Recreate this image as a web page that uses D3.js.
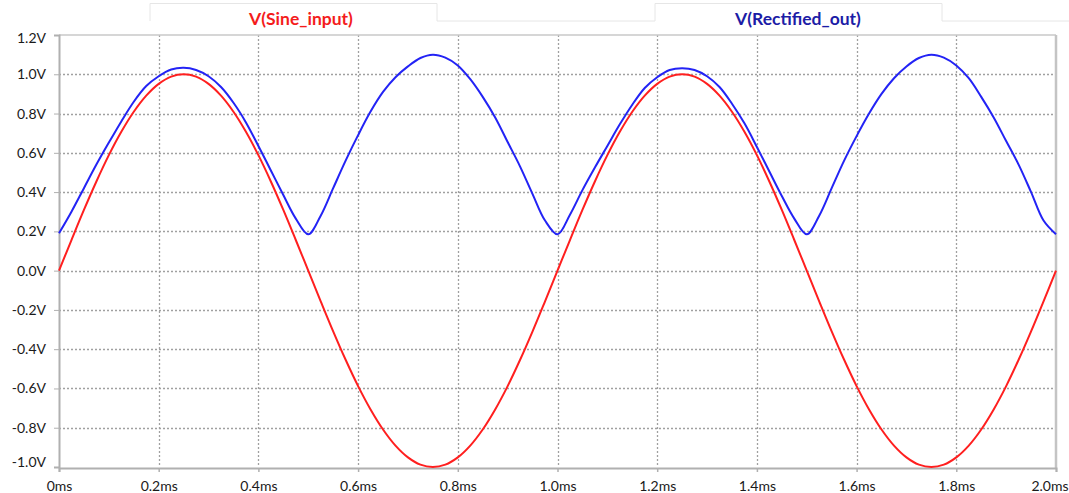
<!DOCTYPE html>
<html>
<head>
<meta charset="utf-8">
<script src="https://cdn.jsdelivr.net/npm/d3@7"></script>
<style>
  body { margin: 0; background: #fff; }
  svg { display: block; }
</style>
</head>
<body>
<svg id="chart" width="1069" height="493"></svg>
<script>
// time axis, in ms (one sample every 0.025 ms)
var timeMs = d3.range(0, 81).map(function(i) { return i * 0.025; });

// V(Sine_input)
var sineInput = [
    0, 0.156, 0.309, 0.454, 0.588, 0.707, 0.809, 0.891, 0.951, 0.988, 1.0,
    0.988, 0.951, 0.891, 0.809, 0.707, 0.588, 0.454, 0.309, 0.156, 0,
    -0.156, -0.309, -0.454, -0.588, -0.707, -0.809, -0.891, -0.951, -0.988, -1.0,
    -0.988, -0.951, -0.891, -0.809, -0.707, -0.588, -0.454, -0.309, -0.156, 0,
    0.156, 0.309, 0.454, 0.588, 0.707, 0.809, 0.891, 0.951, 0.988, 1.0,
    0.988, 0.951, 0.891, 0.809, 0.707, 0.588, 0.454, 0.309, 0.156, 0,
    -0.156, -0.309, -0.454, -0.588, -0.707, -0.809, -0.891, -0.951, -0.988, -1.0,
    -0.988, -0.951, -0.891, -0.809, -0.707, -0.588, -0.454, -0.309, -0.156, 0
];

// V(Rectified_out)
var rectifiedOut = [
    0.19, 0.30, 0.42, 0.54, 0.652, 0.76, 0.86, 0.94, 0.99, 1.024, 1.033,
    1.022, 0.99, 0.935, 0.855, 0.755, 0.635, 0.51, 0.385, 0.265, 0.185,
    0.28, 0.42, 0.56, 0.69, 0.81, 0.91, 0.985, 1.04, 1.083, 1.10,
    1.085, 1.045, 0.975, 0.885, 0.78, 0.655, 0.53, 0.39, 0.255, 0.185,
    0.285, 0.41, 0.525, 0.635, 0.745, 0.845, 0.93, 0.985, 1.022, 1.031,
    1.022, 0.99, 0.935, 0.85, 0.75, 0.63, 0.505, 0.38, 0.265, 0.185,
    0.28, 0.42, 0.56, 0.685, 0.80, 0.90, 0.98, 1.04, 1.083, 1.10,
    1.085, 1.045, 0.98, 0.885, 0.78, 0.66, 0.54, 0.40, 0.255, 0.185
];

var xTicks = [0, 0.2, 0.4, 0.6, 0.8, 1.0, 1.2, 1.4, 1.6, 1.8, 2.0];
var xTickLabels = ["0ms", "0.2ms", "0.4ms", "0.6ms", "0.8ms", "1.0ms", "1.2ms", "1.4ms", "1.6ms", "1.8ms", "2.0ms"];
var yTicks = [1.2, 1.0, 0.8, 0.6, 0.4, 0.2, 0.0, -0.2, -0.4, -0.6, -0.8, -1.0];
var yTickLabels = ["1.2V", "1.0V", "0.8V", "0.6V", "0.4V", "0.2V", "0.0V", "-0.2V", "-0.4V", "-0.6V", "-0.8V", "-1.0V"];

var seriesNames = ["V(Sine_input)", "V(Rectified_out)"];
var seriesColors = ["#ff1f1f", "#2323f5"];
var titleColors = ["#f41c1c", "#1c1ca6"];

var plot = { left: 59, right: 1056, top: 35, bottom: 467 };
var font = "Lato, 'Open Sans', sans-serif";

var svg = d3.select("#chart");

var x = d3.scaleLinear().domain([0, 2.0]).range([plot.left, plot.right]);
var y = d3.scaleLinear().domain([-1.0, 1.2]).range([plot.bottom, plot.top]);

// faint title boxes along the top
var boxes = svg.append("g").attr("fill", "none").attr("stroke", "#e6e6e6").attr("stroke-width", 1);
boxes.append("path").attr("d", "M150,21V3.5H437V21H655V3.5H942V21H1069");

// dotted grid
var grid = svg.append("g").attr("id", "gridLayer");
grid.selectAll("line.v")
    .data(xTicks.slice(1, -1))
    .enter()
    .append("line")
    .attr("class", "v")
    .attr("x1", function(d) { return Math.round(x(d)) + 0.5; })
    .attr("x2", function(d) { return Math.round(x(d)) + 0.5; })
    .attr("y1", plot.top)
    .attr("y2", plot.bottom)
    .attr("stroke", "#a0a0a0")
    .attr("stroke-width", 1.3)
    .attr("stroke-dasharray", "2,2");
grid.selectAll("line.h")
    .data(yTicks.slice(1, -1))
    .enter()
    .append("line")
    .attr("class", "h")
    .attr("x1", plot.left)
    .attr("x2", plot.right)
    .attr("y1", function(d) { return Math.round(y(d)) + 0.5; })
    .attr("y2", function(d) { return Math.round(y(d)) + 0.5; })
    .attr("stroke", "#a0a0a0")
    .attr("stroke-width", 1.3)
    .attr("stroke-dasharray", "2,2");

// frame
svg.append("line")
    .attr("x1", plot.left).attr("x2", plot.right)
    .attr("y1", plot.top).attr("y2", plot.top)
    .attr("stroke", "#c8c8c8").attr("stroke-width", 1.5);
svg.append("line")
    .attr("x1", plot.right).attr("x2", plot.right)
    .attr("y1", plot.top).attr("y2", plot.bottom + 1)
    .attr("stroke", "#c4c4c4").attr("stroke-width", 2.5);

// axes
var xAxis = d3.axisBottom(x)
    .tickValues(xTicks)
    .tickSize(4)
    .tickPadding(9)
    .tickFormat(function(d, i) { return xTickLabels[i]; });
var gx = svg.append("g")
    .attr("transform", "translate(0," + (plot.bottom + 1) + ")")
    .call(xAxis);
gx.select(".domain").attr("stroke", "#b0b0b0").attr("stroke-width", 2);
gx.selectAll(".tick line").attr("stroke", "#b0b0b0").attr("stroke-width", 1.5);
gx.selectAll(".tick text")
    .attr("fill", "#1a1a1a")
    .attr("text-anchor", function(d) { return d === 2.0 ? "end" : "middle"; })
    .attr("x", function(d) { return d === 2.0 ? 12 : 0; })
    .style("font-family", font)
    .style("font-size", "14px");

var yAxis = d3.axisLeft(y)
    .tickValues(yTicks)
    .tickSize(5)
    .tickPadding(8)
    .tickFormat(function(d, i) { return yTickLabels[i]; });
var gy = svg.append("g")
    .attr("transform", "translate(" + plot.left + ",0)")
    .call(yAxis);
gy.select(".domain").attr("stroke", "#b0b0b0").attr("stroke-width", 2);
gy.selectAll(".tick line").attr("stroke", "#b0b0b0").attr("stroke-width", 1);
gy.selectAll(".tick text")
    .attr("fill", "#1a1a1a")
    .attr("y", function(d) {
        // keep the end labels inside the plot band
        if (d === 1.2) return 3;
        if (d === -1.0) return -5;
        return 0;
    })
    .style("font-family", font)
    .style("font-size", "14px");

// traces
var series = [sineInput, rectifiedOut];
var line = d3.line()
    .x(function(d, i) { return x(timeMs[i]); })
    .y(function(d) { return y(d); })
    .curve(d3.curveCatmullRom.alpha(0.5));

svg.append("g").attr("id", "traceLayer")
    .selectAll("path")
    .data(series)
    .enter()
    .append("path")
    .attr("d", function(d) { return line(d); })
    .attr("fill", "none")
    .attr("stroke", function(d, i) { return seriesColors[i]; })
    .attr("stroke-width", 2)
    .attr("stroke-linejoin", "round");

// trace titles
var titleX = [301, 798];
svg.append("g")
    .selectAll("text")
    .data(seriesNames)
    .enter()
    .append("text")
    .attr("x", function(d, i) { return titleX[i]; })
    .attr("y", 25)
    .attr("text-anchor", "middle")
    .attr("fill", function(d, i) { return titleColors[i]; })
    .style("font-family", font)
    .style("font-weight", "bold")
    .style("font-size", "17.5px")
    .text(function(d) { return d; });
</script>
</body>
</html>
